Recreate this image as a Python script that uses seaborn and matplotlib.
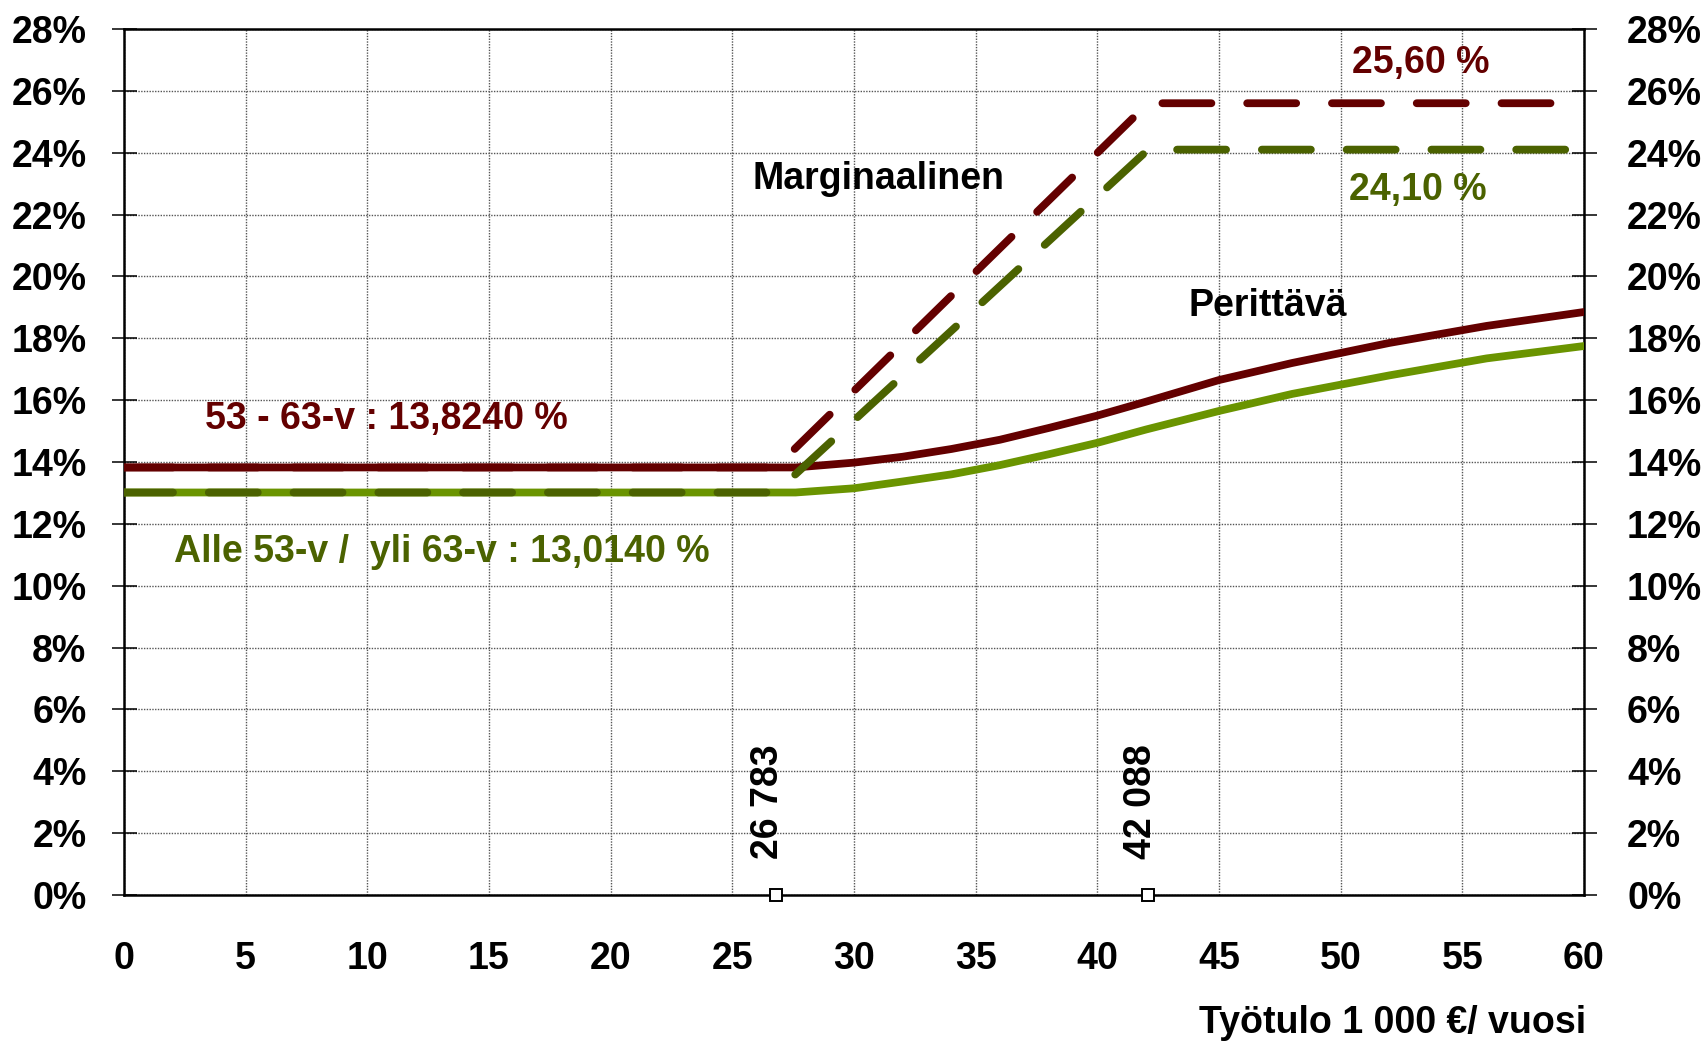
import matplotlib
matplotlib.use("Agg")
import matplotlib.pyplot as plt
import seaborn as sns
import pandas as pd
from matplotlib.font_manager import fontManager

# ---------------- data ----------------
x_eff = [0, 27.6, 30, 32, 34, 36, 38, 40, 42, 45, 48, 52, 56, 60]
red_eff = [13.824, 13.824, 13.98, 14.17, 14.42, 14.72, 15.1, 15.5, 15.95, 16.65,
           17.2, 17.85, 18.4, 18.85]
green_eff = [13.014, 13.014, 13.15, 13.37, 13.6, 13.9, 14.25, 14.62, 15.05,
             15.65, 16.2, 16.8, 17.35, 17.75]

x_marg = [0, 26.783, 42.088, 60]
red_marg = [13.824, 13.824, 25.6, 25.6]
green_marg = [13.014, 13.014, 24.1, 24.1]

thresholds = [26.783, 42.088]
threshold_labels = ["26 783", "42 088"]

x_ticks = list(range(0, 61, 5))
y_ticks = list(range(0, 29, 2))
y_tick_labels = [f"{v}%" for v in y_ticks]

# ---------------- style ----------------
sns.set_style("white")
names = {f.name for f in fontManager.ttflist}
fam = ["Liberation Sans Narrow", "Liberation Sans", "DejaVu Sans"]
fam = [f for f in fam if f in names] or ["DejaVu Sans"]
plt.rcParams["font.family"] = fam
plt.rcParams["font.weight"] = "bold"
plt.rcParams["text.color"] = "black"
plt.rcParams["xtick.color"] = "black"
plt.rcParams["ytick.color"] = "black"
plt.rcParams["xtick.labelcolor"] = "black"
plt.rcParams["ytick.labelcolor"] = "black"

RED = "#640000"
GREEN = "#6a9400"
OLIVE = "#4b6200"
FS = 27

fig = plt.figure(figsize=(17.06, 10.46), dpi=100)
ax = fig.add_axes([124 / 1706, 1 - 895 / 1046, 1460 / 1706, 866 / 1046])

df_eff = pd.DataFrame({"x": x_eff, "red": red_eff, "green": green_eff})
df_marg = pd.DataFrame({"x": x_marg, "red": red_marg, "green": green_marg})

lw = 5.6
sns.lineplot(data=df_eff, x="x", y="red", ax=ax, color=RED, lw=lw,
             estimator=None, solid_capstyle="round", solid_joinstyle="round",
             zorder=4)
sns.lineplot(data=df_eff, x="x", y="green", ax=ax, color=GREEN, lw=lw,
             estimator=None, solid_capstyle="round", solid_joinstyle="round",
             zorder=4)
sns.lineplot(data=df_marg, x="x", y="red", ax=ax, color=RED, lw=lw,
             estimator=None, zorder=5)
ax.lines[-1].set_dashes([6.3, 4.6])
ax.lines[-1].set_dash_capstyle("round")
sns.lineplot(data=df_marg, x="x", y="green", ax=ax, color=OLIVE, lw=lw,
             estimator=None, zorder=5)
ax.lines[-1].set_dashes([6.3, 4.6])
ax.lines[-1].set_dash_capstyle("round")

# threshold markers
ax.plot(thresholds, [0, 0], ls="none", marker="s", ms=8, mfc="white",
        mec="black", mew=1.4, clip_on=False, zorder=6)
for xv, lab in zip(thresholds, threshold_labels):
    ax.text(xv - 0.3, 1.15, lab, rotation=90, ha="center", va="bottom",
            fontsize=FS, fontweight="bold", color="black",
            family=["Liberation Sans", "DejaVu Sans"])

ax.set_xlim(0, 60)
ax.set_ylim(0, 28)
ax.set_xticks(x_ticks)
ax.set_xticklabels([str(v) for v in x_ticks])
ax.set_yticks(y_ticks)
ax.set_yticklabels(y_tick_labels)
ax.set_xlabel("")
ax.set_ylabel("")

ax.grid(True, color="#555555", ls=(0, (1, 1)), lw=1.0)
ax.set_axisbelow(True)
for s in ax.spines.values():
    s.set_visible(True)
    s.set_color("black")
    s.set_linewidth(1.8)

ax.tick_params(axis="x", direction="out", length=9, width=1.1, pad=24,
               labelsize=FS, colors="black")
ax.tick_params(axis="y", direction="inout", length=18, width=1.1, pad=18,
               labelsize=FS, colors="black")

ax2 = ax.twinx()
ax2.set_ylim(0, 28)
ax2.set_yticks(y_ticks)
ax2.set_yticklabels(y_tick_labels)
ax2.tick_params(axis="y", direction="inout", length=18, width=1.1, pad=22,
                labelsize=FS, colors="black")
for s in ax2.spines.values():
    s.set_visible(False)
ax2.grid(False)

for lab in ax.get_xticklabels() + ax.get_yticklabels() + ax2.get_yticklabels():
    lab.set_fontweight("bold")
    lab.set_color("black")

# annotations
ax.text(53.3, 26.9, "25,60 %", color=RED, fontsize=FS, fontweight="bold",
        ha="center", va="center")
ax.text(53.15, 22.8, "24,10 %", color=OLIVE, fontsize=FS, fontweight="bold",
        ha="center", va="center")
ax.text(31.0, 23.15, "Marginaalinen", color="black", fontsize=FS,
        fontweight="bold", ha="center", va="center")
ax.text(47.0, 19.03, "Perittävä", color="black", fontsize=FS,
        fontweight="bold", ha="center", va="center")
ax.text(10.8, 15.4, "53 - 63-v : 13,8240 %", color=RED, fontsize=FS,
        fontweight="bold", ha="center", va="center")
ax.text(13.05, 11.1, "Alle 53-v /  yli 63-v : 13,0140 %", color=OLIVE,
        fontsize=FS, fontweight="bold", ha="center", va="center")

fig.text(1586 / 1706, 1 - 1023 / 1046, "Työtulo 1 000 €/ vuosi",
         ha="right", va="center", fontsize=FS, fontweight="bold",
         color="black")

fig.savefig("out.png", dpi=100, facecolor="white")
